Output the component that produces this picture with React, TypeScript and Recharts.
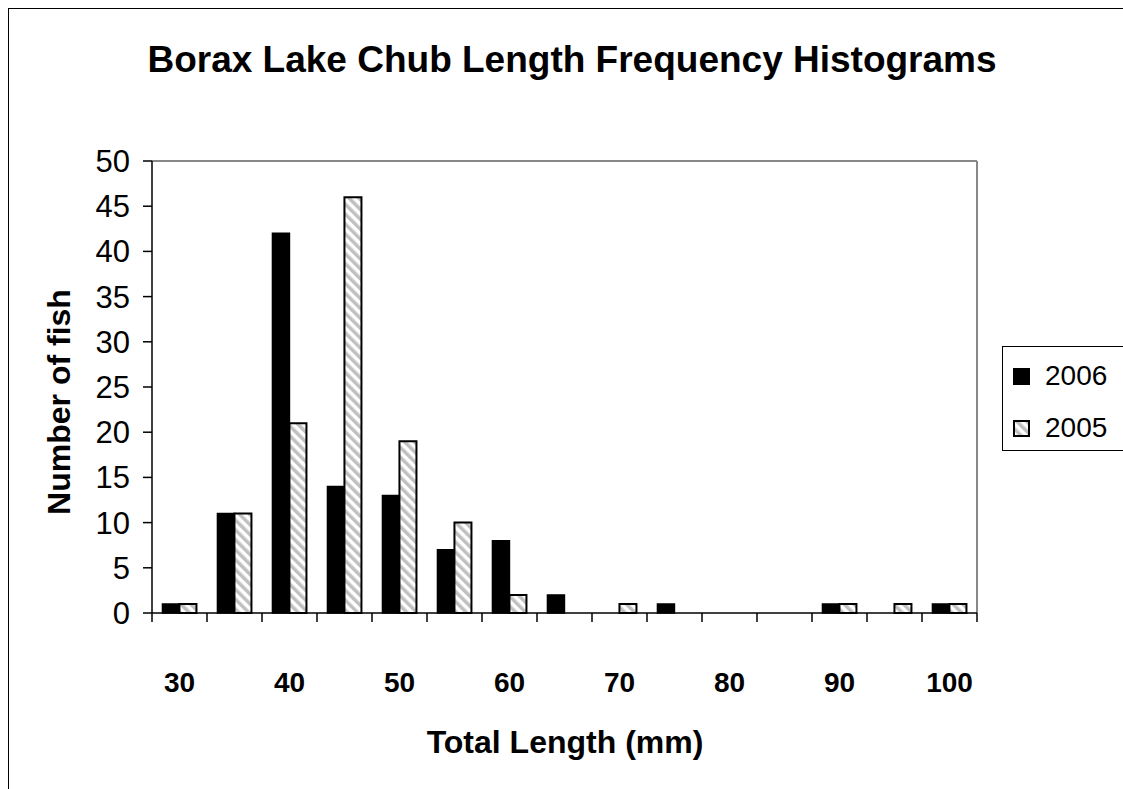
import React from 'react';
import { BarChart, Bar, XAxis, YAxis, Legend, ReferenceLine } from 'recharts';

const LENGTHS = [30, 35, 40, 45, 50, 55, 60, 65, 70, 75, 80, 85, 90, 95, 100];
const FISH_2006 = [1, 11, 42, 14, 13, 7, 8, 2, 0, 1, 0, 0, 1, 0, 1];
const FISH_2005 = [1, 11, 21, 46, 19, 10, 2, 0, 1, 0, 0, 0, 1, 1, 1];
const Y_TICKS = [0, 5, 10, 15, 20, 25, 30, 35, 40, 45, 50];
const LABELED = [30, 40, 50, 60, 70, 80, 90, 100];
const SERIES = [
  { key: 'y2006', name: '2006', fill: '#000' },
  { key: 'y2005', name: '2005', fill: 'url(#stripes)' },
];

const data = LENGTHS.map((len, i) => ({ len, y2006: FISH_2006[i], y2005: FISH_2005[i] }));

const FONT = '"Liberation Sans", Arial, sans-serif';

// tick marks sit on the band edges, labels only on every other bin
const LengthTick = (props: any) => {
  const { x, y, payload, index } = props;
  const half = payload.offset ?? 0;
  const last = index === LENGTHS.length - 1;
  return (
    <g>
      <line x1={x - half} x2={x - half} y1={y - 9} y2={y} stroke="#000" strokeWidth={1.5} />
      {last && <line x1={x + half} x2={x + half} y1={y - 9} y2={y} stroke="#000" strokeWidth={1.5} />}
      {LABELED.includes(payload.value) && (
        <text x={x} y={y + 60} textAnchor="middle" dominantBaseline="central" fontSize={28} fontWeight="bold" fill="#000" fontFamily={FONT}>
          {payload.value}
        </text>
      )}
    </g>
  );
};

const Swatch = ({ fill }: { fill: string }) => (
  <svg width={17} height={17} style={{ display: 'block', marginRight: 15 }}>
    <rect x={1} y={1} width={15} height={15} fill={fill} stroke="#000" strokeWidth={2} />
  </svg>
);

// legend box runs off the right edge of the picture, as in the original
const renderLegend = () => (
  <div style={{ borderLeft: '1px solid #000', borderTop: '1px solid #000', borderBottom: '1px solid #000', width: 121, height: 105, boxSizing: 'border-box', padding: '10px 0 0 10px', background: '#fff', fontFamily: FONT, fontSize: 28, color: '#000' }}>
    {SERIES.map((s, i) => (
      <div key={s.key} style={{ display: 'flex', alignItems: 'center', height: 38, marginBottom: i === 0 ? 14 : 0 }}>
        <Swatch fill={s.fill} />
        <span>{s.name}</span>
      </div>
    ))}
  </div>
);

export default function App() {
  return (
    <div style={{ position: 'fixed', left: 8, top: 8, width: 1115, height: 781, borderLeft: '1px solid #000', borderTop: '1px solid #000', boxSizing: 'border-box', overflow: 'hidden', background: '#fff', fontFamily: FONT }}>
      <svg width={0} height={0} style={{ position: 'absolute' }}>
        <defs>
          <pattern id="stripes" patternUnits="userSpaceOnUse" width={7} height={7} patternTransform="rotate(-45)">
            <rect width={7} height={7} fill="#fff" />
            <rect width={3.5} height={7} fill="#c0c0c0" />
          </pattern>
        </defs>
      </svg>
      <div style={{ position: 'absolute', left: 563, top: 51, transform: 'translate(-50%, -50%)', whiteSpace: 'nowrap', fontSize: 37, fontWeight: 'bold' }}>
        Borax Lake Chub Length Frequency Histograms
      </div>
      <div style={{ position: 'absolute', left: 50, top: 393, transform: 'translate(-50%, -50%) rotate(-90deg)', whiteSpace: 'nowrap', fontSize: 32, fontWeight: 'bold' }}>
        Number of fish
      </div>
      <div style={{ position: 'absolute', left: 556, top: 733, transform: 'translate(-50%, -50%)', whiteSpace: 'nowrap', fontSize: 32, fontWeight: 'bold' }}>
        Total Length (mm)
      </div>
      <BarChart
        width={1114}
        height={780}
        data={data}
        margin={{ top: 152, right: 146, bottom: 116, left: 63 }}
        barCategoryGap="19%"
        barGap={0}
      >
        <XAxis
          dataKey="len"
          interval={0}
          tickLine={false}
          tickSize={9}
          tickMargin={0}
          height={60}
          axisLine={{ stroke: '#000', strokeWidth: 1.5 }}
          tick={<LengthTick />}
        />
        <YAxis
          domain={[0, 50]}
          ticks={Y_TICKS}
          interval={0}
          width={80}
          tickSize={9}
          tickMargin={13}
          tickLine={{ stroke: '#000', strokeWidth: 1.5 }}
          axisLine={{ stroke: '#000', strokeWidth: 1.5 }}
          tick={{ fill: '#000', fontSize: 31, fontFamily: FONT }}
        />
        <ReferenceLine y={50} stroke="#888" strokeWidth={2} />
        <ReferenceLine x={100} position="end" stroke="#888" strokeWidth={2} />
        <Legend
          layout="vertical"
          align="center"
          verticalAlign="middle"
          content={renderLegend}
          wrapperStyle={{ position: 'absolute', left: 993, top: 337, width: 121 }}
        />
        {SERIES.map((s) => (
          <Bar key={s.key} dataKey={s.key} name={s.name} fill={s.fill} stroke="#000" strokeWidth={s.key === 'y2005' ? 2 : 1.5} isAnimationActive={false} />
        ))}
      </BarChart>
    </div>
  );
}
